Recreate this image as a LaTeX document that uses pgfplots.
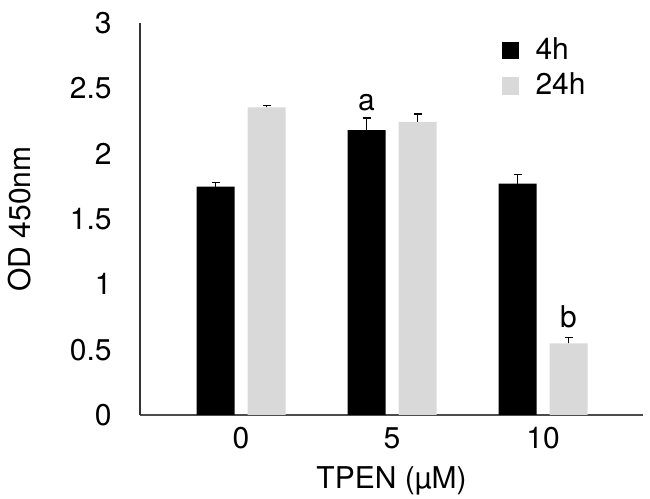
\documentclass[border=0pt]{standalone}
\usepackage{fontspec}
\setmainfont{TeX Gyre Heros}
\usepackage{pgfplots}
\pgfplotsset{compat=1.18}
\definecolor{lightbar}{HTML}{D9D9D9}
\begin{document}
\fontsize{15}{18}\selectfont
\begin{tikzpicture}
\useasboundingbox (-70pt,-42pt) rectangle (255pt,207.5pt);
\begin{axis}[
    at={(0,0)}, anchor=south west,
    scale only axis, width=251.5pt, height=196pt,
    ybar,
    xmin=-0.669, xmax=2.662, ymin=0, ymax=3,
    axis lines=left, axis line style={-},
    x axis line style={draw=black!70, line width=0.8pt},
    y axis line style={draw=black!80, line width=0.6pt},
    xtick={0,1,2}, xticklabels={0,5,10},
    ytick={0,0.5,1,1.5,2,2.5,3},
    yticklabels={0,0.5,1,1.5,2,2.5,3},
    major tick length=0pt,
    tick label style={font=\fontsize{15}{18}\selectfont},
    yticklabel style={anchor=east, xshift=-9pt},
    xticklabel style={anchor=north, yshift=-1pt},
    xlabel={TPEN (µM)},
    ylabel={OD 450nm},
    label style={font=\fontsize{15}{18}\selectfont},
    xlabel style={at={([yshift=-33pt]axis description cs:0.5,0)}, anchor=center},
    ylabel style={at={([xshift=-60pt]axis description cs:0,0.5)}, anchor=center},
    legend style={at={(0.718,0.975)}, anchor=north west, draw=none, fill=none,
        inner sep=0pt, row sep=0.5pt, cells={anchor=west},
        font=\fontsize{15}{18}\selectfont},
    legend image code/.code={\fill[#1] (0pt,-4.4pt) rectangle (8.8pt,4.4pt);
        \path[draw=none, fill=none] (0pt,0pt) -- (15pt,0pt);},
    clip=false,
]
\addplot[fill=black, draw=none, bar width=19pt, bar shift=-12.75pt,
    error bars/.cd, y dir=plus, y explicit,
    error bar style={line width=0.8pt, black},
    error mark options={rotate=90, mark size=2pt, line width=0.8pt, black}]
    coordinates {(0,1.747) +- (0,0.033) (1,2.18) +- (0,0.095) (2,1.77) +- (0,0.07)};
\addplot[fill=lightbar, draw=none, bar width=19pt, bar shift=12.75pt,
    error bars/.cd, y dir=plus, y explicit,
    error bar style={line width=0.8pt, black},
    error mark options={rotate=90, mark size=2pt, line width=0.8pt, black}]
    coordinates {(0,2.354) +- (0,0.016) (1,2.244) +- (0,0.058) (2,0.548) +- (0,0.046)};
\legend{4h,24h}
\node[anchor=base] at ([xshift=-12.75pt]axis cs:1,2.334) {a};
\node[anchor=base] at ([xshift=12.75pt]axis cs:2,0.666) {b};
\end{axis}
\end{tikzpicture}
\end{document}
